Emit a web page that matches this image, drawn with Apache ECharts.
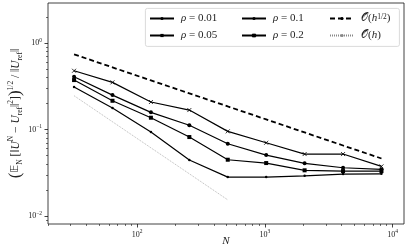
<!DOCTYPE html>
<html><head><meta charset="utf-8">
<script src="https://cdn.jsdelivr.net/npm/echarts@6/dist/echarts.min.js"></script>
<style>html,body{margin:0;padding:0;background:#fff}#c{width:407px;height:250px}</style>
</head><body><div id="c"></div>
<script>
// ---- data ----
const N = [32, 64, 128, 256, 512, 1024, 2048, 4096, 8192];
const rho001 = [0.310, 0.177, 0.0935, 0.0444, 0.0282, 0.0282, 0.0292, 0.0306, 0.0308];
const rho005 = [0.373, 0.215, 0.137, 0.0819, 0.0448, 0.0410, 0.0338, 0.0331, 0.0331];
const rho01  = [0.408, 0.250, 0.158, 0.112, 0.0685, 0.0507, 0.0407, 0.0362, 0.0347];
const rho02  = [0.478, 0.351, 0.208, 0.168, 0.0953, 0.0704, 0.0521, 0.0521, 0.0375];
const refHalf = [0.74, 0.523, 0.37, 0.262, 0.185, 0.131, 0.0925, 0.0654, 0.0463];
const N_h = [32, 64, 128, 256, 512];
const refOne = [0.246, 0.123, 0.0615, 0.0308, 0.0154];
const xMajorTicks = [100, 1000, 10000];
const xMinorTicks = [20,30,40,50,60,70,80,90,200,300,400,500,600,700,800,900,2000,3000,4000,5000,6000,7000,8000,9000];
const yMajorTicks = [0.01, 0.1, 1];
const yMinorTicks = [0.009,0.02,0.03,0.04,0.05,0.06,0.07,0.08,0.09,0.2,0.3,0.4,0.5,0.6,0.7,0.8,0.9,2];
const seriesNames = ['ρ = 0.01', 'ρ = 0.05', 'ρ = 0.1', 'ρ = 0.2', 'O(h^1/2)', 'O(h)'];

const FONT = 'Liberation Serif';
const pairs = (xs, ys) => xs.map((x, i) => [x, ys[i]]);
function pow10(v) {
  const e = Math.round(Math.log10(v));
  return '{b|10}{s|' + (e < 0 ? '\u2212' + (-e) : e) + '}';
}
const tickRich = {
  b: {fontFamily: FONT, fontSize: 8, lineHeight: 11, color: '#222'},
  s: {fontFamily: FONT, fontSize: 5.5, lineHeight: 6, verticalAlign: 'top', color: '#222'}
};
const legendRich = {
  i: {fontFamily: FONT, fontStyle: 'italic', fontSize: 11, color: '#222'},
  t: {fontFamily: FONT, fontSize: 11, color: '#222'},
  s: {fontFamily: FONT, fontSize: 7.5, lineHeight: 8, verticalAlign: 'top', color: '#222'}
};
function legendFmt(name) {
  if (name.startsWith('ρ')) return '{i|ρ}{t|' + name.slice(1) + '}';
  if (name === 'O(h^1/2)') return '{t|𝒪(}{i|h}{s|1/2}{t|)}';
  return '{t|𝒪(}{i|h}{t|)}';
}
const xPath = 'path://M0,0L10,10M0,10L10,0';
function rhoSeries(name, data, symbol, size) {
  return {
    name: name, type: 'line', data: pairs(N, data), symbol: symbol, symbolSize: size,
    lineStyle: {color: '#000', width: 1.2}, itemStyle: {color: '#000', borderColor: '#000', borderWidth: symbol === xPath ? 0.8 : 0},
    emphasis: {disabled: true}, animation: false, z: 3
  };
}
const legendCommon = {
  orient: 'vertical', top: 13, itemWidth: 24, itemHeight: 4, itemGap: 6, padding: 0,
  formatter: legendFmt, textStyle: {rich: legendRich, padding: [0, 0, 0, 2]}, selectedMode: false, z: 6
};
const yName = '{p|(}{bb|𝔼}{sub|N}{t| [‖}{i|U}{sup|N}{t| − }{i|U}{sub|ref}{t|‖}{sup|2}{t|]}{p|)}{sup|1/2}{t| / ‖}{i|U}{sub|ref}{t|‖}';
const nameRich = {
  t: {fontFamily: FONT, fontSize: 11.5, lineHeight: 17, color: '#222'},
  i: {fontFamily: FONT, fontStyle: 'italic', fontSize: 11.5, lineHeight: 17, color: '#222'},
  bb: {fontFamily: 'DejaVu Sans', fontSize: 10.5, lineHeight: 17, color: '#222'},
  p: {fontFamily: FONT, fontSize: 17, lineHeight: 17, color: '#222'},
  sub: {fontFamily: FONT, fontSize: 7.5, lineHeight: 8, verticalAlign: 'bottom', color: '#222'},
  sup: {fontFamily: FONT, fontSize: 7.5, lineHeight: 8, verticalAlign: 'top', color: '#222'}
};
const xMin = 20, xMax = 12300, yMin = 0.0081, yMax = 2.9;
const option = {
  animation: false,
  grid: {left: 48, right: 3, top: 3, bottom: 26, show: true, borderColor: '#111', borderWidth: 0.8,
    backgroundColor: '#fff', outerBoundsMode: 'none', containLabel: false},
  xAxis: [
    {type: 'log', logBase: 10, min: xMin, max: xMax, name: 'N', nameLocation: 'middle', nameGap: 12,
     nameMoveOverlap: false,
     nameTextStyle: {fontFamily: FONT, fontStyle: 'italic', fontSize: 11, color: '#222'},
     axisLine: {show: false}, splitLine: {show: false},
     axisTick: {length: 3.5, lineStyle: {color: '#111', width: 0.8}, customValues: xMajorTicks},
     axisLabel: {margin: 5, formatter: pow10, rich: tickRich, customValues: xMajorTicks}},
    {type: 'log', logBase: 10, min: xMin, max: xMax, gridIndex: 0, position: 'bottom',
     axisLine: {show: false}, splitLine: {show: false}, axisLabel: {show: false},
     axisTick: {length: 2, lineStyle: {color: '#111', width: 0.6}, customValues: xMinorTicks}}
  ],
  yAxis: [
    {type: 'log', logBase: 10, min: yMin, max: yMax, name: yName, nameLocation: 'middle', nameGap: 24,
     nameMoveOverlap: false,
     nameTextStyle: {rich: nameRich},
     axisLine: {show: false}, splitLine: {show: false},
     axisTick: {length: 3.5, lineStyle: {color: '#111', width: 0.8}, customValues: yMajorTicks},
     axisLabel: {margin: 6, formatter: pow10, rich: tickRich, customValues: yMajorTicks}},
    {type: 'log', logBase: 10, min: yMin, max: yMax, gridIndex: 0, position: 'left',
     axisLine: {show: false}, splitLine: {show: false}, axisLabel: {show: false},
     axisTick: {length: 2, lineStyle: {color: '#111', width: 0.6}, customValues: yMinorTicks}}
  ],
  legend: [
    Object.assign({}, legendCommon, {left: 149, data: seriesNames.slice(0, 2)}),
    Object.assign({}, legendCommon, {left: 241, data: seriesNames.slice(2, 4)}),
    Object.assign({}, legendCommon, {left: 329, data: seriesNames.slice(4, 6)})
  ],
  graphic: [{type: 'rect', left: 145, top: 8, z: 5, shape: {width: 254, height: 38, r: 2},
    style: {fill: 'rgba(255,255,255,0.8)', stroke: '#d0d0d0', lineWidth: 0.8}}],
  series: [
    rhoSeries(seriesNames[0], rho001, 'circle', 2.5),
    rhoSeries(seriesNames[1], rho005, 'rect', 4),
    rhoSeries(seriesNames[2], rho01, 'circle', 4),
    rhoSeries(seriesNames[3], rho02, xPath, 4),
    {name: seriesNames[4], type: 'line', data: pairs(N, refHalf), symbol: 'none',
     lineStyle: {color: '#000', width: 1.8, type: [5, 3]}, itemStyle: {color: '#000'}, z: 4},
    {name: seriesNames[5], type: 'line', data: pairs(N_h, refOne), symbol: 'none',
     lineStyle: {color: '#888', width: 0.6, type: [1, 1]}, itemStyle: {color: '#888'}, z: 4}
  ]
};
const chart = echarts.init(document.getElementById('c'), null, {renderer: 'canvas'});
chart.setOption(option);
</script>
</body></html>
